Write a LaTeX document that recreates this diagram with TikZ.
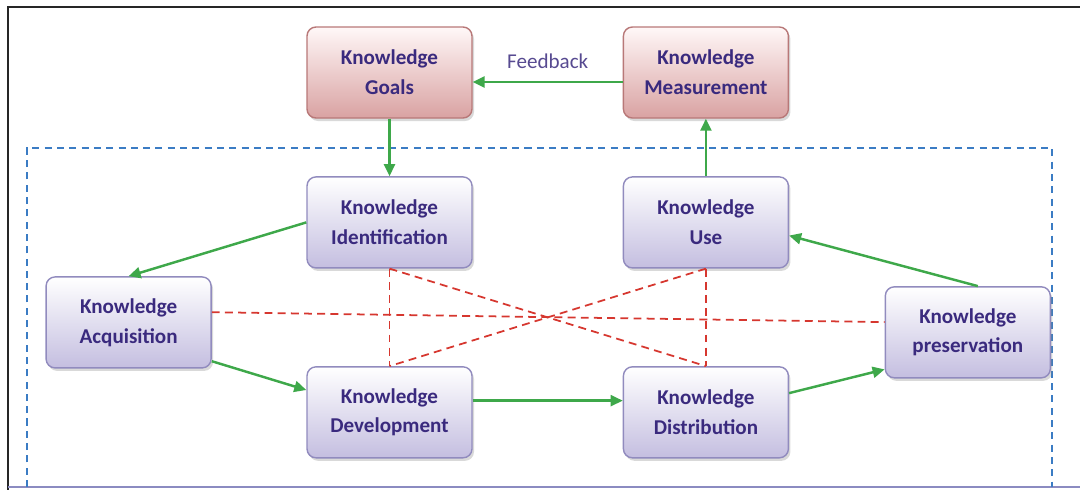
\documentclass[tikz,border=0pt]{standalone}
\usepackage{fontspec}
\setmainfont{Carlito}
\usepackage{tikz}
\usetikzlibrary{positioning,arrows.meta,shadows}

\definecolor{kmtext}{HTML}{3A2A7E}
\definecolor{kmgreen}{HTML}{3EA84A}
\definecolor{kmred}{HTML}{D6372F}
\definecolor{kmblue}{HTML}{3B7CC4}
\definecolor{kmlav}{HTML}{C4BEE0}
\definecolor{kmlavline}{HTML}{918BBE}
\definecolor{kmpink}{HTML}{D9A2A2}
\definecolor{kmpinkline}{HTML}{B87878}

\begin{document}
\begin{tikzpicture}[
  kbox/.style={draw=kmlavline,line width=0.8pt,rounded corners=0.18cm,
    minimum width=3.3cm,minimum height=1.82cm,align=center,
    top color=white,bottom color=kmlav,
    font=\fontsize{12}{17}\selectfont\bfseries,text=kmtext,
    drop shadow={opacity=0.3,shadow xshift=0.04cm,shadow yshift=-0.06cm}},
  goalbox/.style={kbox,draw=kmpinkline,top color=red!3,bottom color=kmpink},
  ]
  \tikzset{%
    flow/.style={draw=kmgreen,line width=1.4pt,-{Triangle[length=0.24cm,width=0.22cm]}},
    link/.style={draw=kmred,line width=1pt,dash pattern=on 4.5pt off 3pt},
  }
  \useasboundingbox (0,0) rectangle (21.6,9.8);
  %Frame
  \draw[line width=1.6pt,black!85] (21.6,9.66) -- (0.16,9.66) -- (0.16,0);
  \draw[line width=0.8pt,blue!30!gray!70] (0.16,0.06) -- (21.6,0.06);
  \draw[kmblue,line width=0.9pt,dash pattern=on 4pt off 3pt]
    (0.54,0.06) -- (0.54,6.84) -- (21.04,6.84) -- (21.04,0.06);
  %Nodes
  \node[goalbox](goals) at (7.79,8.35){Knowledge\\Goals};
  \node[goalbox](meas)[right=3cm of goals]{Knowledge\\Measurement};
  \node[kbox](ident)[below=1.15cm of goals]{Knowledge\\Identification};
  \node[kbox](use)[below=1.15cm of meas]{Knowledge\\Use};
  \node[kbox](devel)[below=1.95cm of ident]{Knowledge\\Development};
  \node[kbox](distr)[below=1.95cm of use]{Knowledge\\Distribution};
  \node[kbox,yshift=-2cm](acq)[left=1.89cm of ident]{Knowledge\\Acquisition};
  \node[kbox,yshift=1.6cm](pres)[right=1.91cm of distr]{Knowledge\\preservation};
  %Dashed links
  \draw[link] (acq.7) -- (pres.173);
  \draw[link] (ident.south) -- (devel.north);
  \draw[link] (use.south) -- (distr.north);
  \draw[link] (ident.south) -- (distr.north);
  \draw[link] (use.south) -- (devel.north);
  %Arrows
  \draw[flow] ([yshift=-0.19cm]meas.west) -- ([yshift=-0.19cm]goals.east)
    node[midway,above=0.12cm,text=kmtext!85,font=\fontsize{12}{14}\selectfont]{Feedback};
  \draw[flow] (goals) -- (ident);
  \draw[flow] (use) -- (meas);
  \draw[flow] (ident.west) -- (acq.north);
  \draw[flow] (acq.-25) -- (devel.165);
  \draw[flow] (devel.8) -- (distr.172);
  \draw[flow] (distr.13) -- (pres.204);
  \draw[flow] ([xshift=0.2cm]pres.north) -- (use.-9);
\end{tikzpicture}
\end{document}
